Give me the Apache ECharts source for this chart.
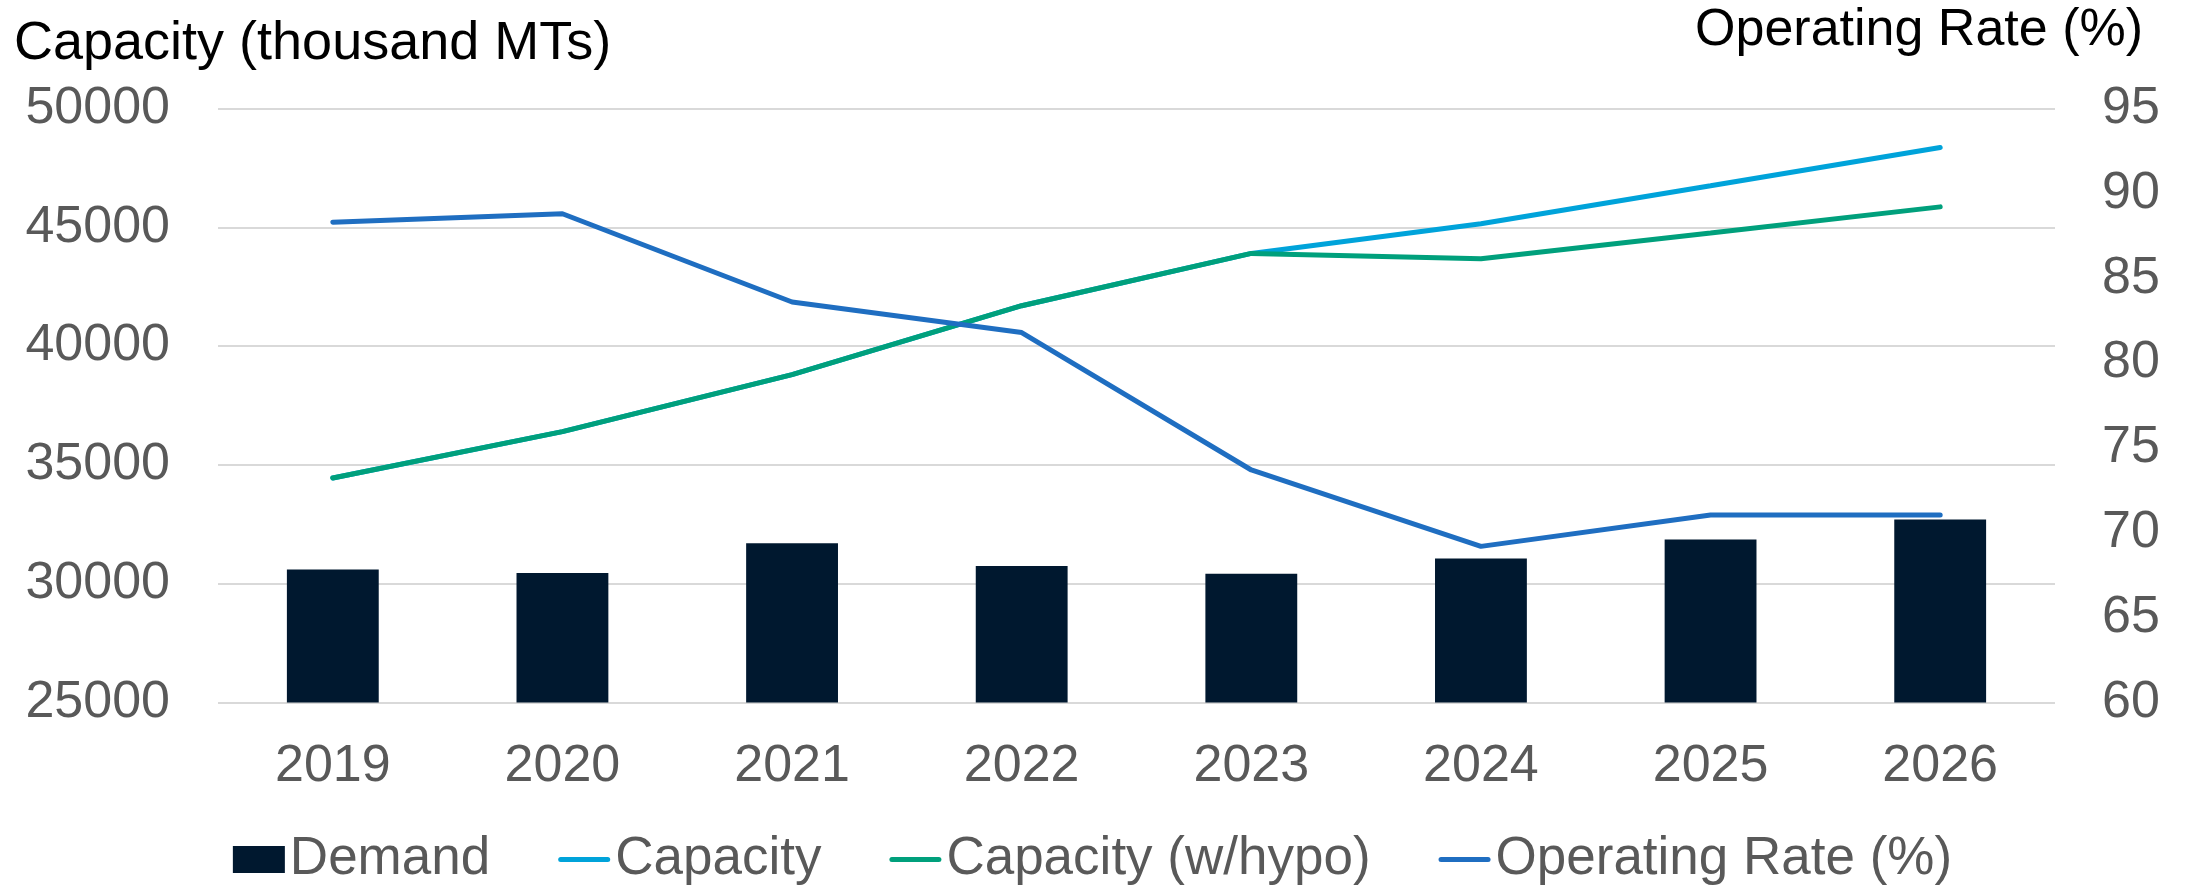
<!DOCTYPE html>
<html style="height: 100%">
<head>
    <meta charset="utf-8">
    <script src="https://cdn.jsdelivr.net/npm/echarts@6/dist/echarts.min.js"></script>
</head>
<body style="height: 100%; margin: 0; background: #fff">
    <div id="main" style="width: 2185px; height: 886px"></div>
    <script type="text/javascript">
        // data
        var years = ['2019', '2020', '2021', '2022', '2023', '2024', '2025', '2026'];
        var demand = [30600, 30450, 31700, 30740, 30420, 31060, 31860, 32700];
        var capacity = [34450, 36400, 38800, 41700, 43900, 45150, 46750, 48360];
        var capacityHypo = [34450, 36400, 38800, 41700, 43900, 43680, 44760, 45860];
        var operatingRate = [88.3, 88.8, 83.6, 81.8, 73.7, 69.2, 71.05, 71.05];

        var font = 'Liberation Sans, Arial, sans-serif';
        var grey = '#595959';
        // flat line icon for the legend (no marker dot)
        var lineIcon = 'path://M2.5,0 L49.5,0 A2.5,2.5 0 0 1 49.5,5 L2.5,5 A2.5,2.5 0 0 1 2.5,0 Z';

        var myChart = echarts.init(document.getElementById('main'));

        var option = {
            animation: false,
            textStyle: { fontFamily: font },
            title: [{
                text: 'Capacity (thousand MTs)',
                left: 14,
                top: 17,
                padding: 0,
                textStyle: { fontSize: 54, fontWeight: 'normal', color: '#000', fontFamily: font }
            }, {
                text: 'Operating Rate (%)',
                right: 42,
                top: 5,
                padding: 0,
                textStyle: { fontSize: 52, fontWeight: 'normal', color: '#000', fontFamily: font }
            }],
            grid: {
                left: 218,
                right: 130,
                top: 108.5,
                bottom: 183.5
            },
            legend: {
                bottom: -5,
                left: 'center',
                itemWidth: 52,
                itemHeight: 27,
                itemGap: 68,
                textStyle: { fontSize: 53, color: grey, fontFamily: font },
                data: [
                    { name: 'Demand', icon: 'rect' },
                    { name: 'Capacity', icon: lineIcon },
                    { name: 'Capacity (w/hypo)', icon: lineIcon },
                    { name: 'Operating Rate (%)', icon: lineIcon }
                ]
            },
            xAxis: {
                type: 'category',
                data: years,
                axisLine: { show: false },
                axisTick: { show: false },
                axisLabel: { fontSize: 52, color: grey, margin: 38 }
            },
            yAxis: [{
                type: 'value',
                min: 25000,
                max: 50000,
                interval: 5000,
                axisLine: { show: false },
                axisTick: { show: false },
                axisLabel: { fontSize: 52, color: grey, margin: 48, formatter: function (v) { return String(v); } },
                splitLine: { lineStyle: { color: '#d9d9d9', width: 2 } }
            }, {
                type: 'value',
                min: 60,
                max: 95,
                interval: 5,
                axisLine: { show: false },
                axisTick: { show: false },
                axisLabel: { fontSize: 52, color: grey, margin: 47 },
                splitLine: { show: false }
            }],
            series: [{
                name: 'Demand',
                type: 'bar',
                barWidth: '40%',
                itemStyle: { color: '#00182f' },
                data: demand
            }, {
                name: 'Capacity',
                type: 'line',
                symbol: 'none',
                lineStyle: { color: '#00a3da', width: 5, cap: 'round' },
                itemStyle: { color: '#00a3da' },
                data: capacity
            }, {
                name: 'Capacity (w/hypo)',
                type: 'line',
                symbol: 'none',
                lineStyle: { color: '#00a07c', width: 5, cap: 'round' },
                itemStyle: { color: '#00a07c' },
                data: capacityHypo
            }, {
                name: 'Operating Rate (%)',
                type: 'line',
                yAxisIndex: 1,
                symbol: 'none',
                lineStyle: { color: '#1f6ec1', width: 5, cap: 'round' },
                itemStyle: { color: '#1f6ec1' },
                data: operatingRate
            }]
        };

        myChart.setOption(option);
    </script>
</body>
</html>
